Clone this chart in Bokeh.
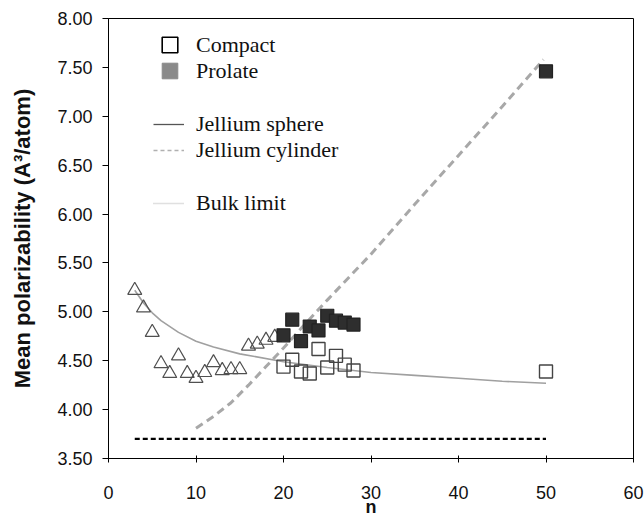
from bokeh.plotting import figure
from bokeh.models import Range1d, FixedTicker, Legend, LegendItem
from bokeh.embed import file_html
from bokeh.resources import INLINE

# ---- data ----
tri_n = [3, 4, 5, 6, 7, 8, 9, 10, 11, 12, 13, 14, 15, 16, 17, 18, 19]
tri_y = [5.22, 5.04, 4.79, 4.47, 4.37, 4.55, 4.37, 4.32, 4.38, 4.48,
         4.40, 4.41, 4.41, 4.65, 4.67, 4.71, 4.74]

compact_n = [20, 21, 22, 23, 24, 25, 26, 27, 28, 50]
compact_y = [4.44, 4.51, 4.39, 4.37, 4.62, 4.43, 4.55, 4.46, 4.40, 4.39]

prolate_n = [20, 21, 22, 23, 24, 25, 26, 27, 28, 50]
prolate_y = [4.76, 4.92, 4.70, 4.85, 4.81, 4.96, 4.91, 4.89, 4.87, 7.46]

sphere_n = [3, 4, 5, 6, 8, 10, 12, 15, 20, 25, 30, 35, 40, 45, 50]
sphere_y = [5.22, 5.09, 4.99, 4.91, 4.79, 4.70, 4.64, 4.57, 4.49, 4.43,
            4.38, 4.35, 4.32, 4.29, 4.27]

cyl_n = [10, 12, 14, 16, 18, 20, 22, 25, 30, 35, 40, 45, 49.7]
cyl_y = [3.81, 3.93, 4.07, 4.25, 4.44, 4.63, 4.83, 5.12, 5.59, 6.10,
         6.60, 7.10, 7.58]

bulk_n = [3, 50]
bulk_y = [3.70, 3.70]

x_ticks = [0, 10, 20, 30, 40, 50, 60]
y_ticks = [3.5, 4.0, 4.5, 5.0, 5.5, 6.0, 6.5, 7.0, 7.5, 8.0]
y_tick_labels = ["3.50", "4.00", "4.50", "5.00", "5.50", "6.00", "6.50",
                 "7.00", "7.50", "8.00"]

# ---- figure ----
p = figure(width=644, height=523, output_backend="svg", toolbar_location=None,
           x_range=Range1d(0, 60), y_range=Range1d(3.5, 8.0),
           min_border_left=108, min_border_right=11,
           min_border_top=18, min_border_bottom=65)
p.background_fill_color = "white"
p.border_fill_color = "white"
p.outline_line_color = "black"
p.outline_line_width = 1
p.xgrid.visible = False
p.ygrid.visible = False

sans = "Liberation Sans"
serif = "Liberation Serif"

p.xaxis.ticker = FixedTicker(ticks=x_ticks)
p.yaxis.ticker = FixedTicker(ticks=y_ticks)
p.yaxis.major_label_overrides = {t: l for t, l in zip(y_ticks, y_tick_labels)}

for ax in (p.xaxis[0], p.yaxis[0]):
    ax.axis_line_color = "black"
    ax.major_tick_line_color = "black"
    ax.minor_tick_line_color = None
    ax.major_label_text_font = sans
    ax.major_label_text_font_size = "18px"
    ax.major_label_text_color = "#111111"
    ax.axis_label_text_font = sans
    ax.axis_label_text_font_style = "bold"
    ax.axis_label_text_color = "#111111"

p.xaxis.major_tick_in = 3
p.xaxis.major_tick_out = 4
p.xaxis.major_label_standoff = 23
p.xaxis.axis_label = "n"
p.xaxis.axis_label_text_font_size = "18px"
p.xaxis.axis_label_standoff = -5

p.yaxis.major_tick_in = 0
p.yaxis.major_tick_out = 6
p.yaxis.major_label_standoff = 10
p.yaxis.axis_label = "Mean polarizability (A\u00b3/atom)"
p.yaxis.axis_label_text_font_size = "22px"
p.yaxis.axis_label_standoff = 19

# ---- lines ----
p.line(bulk_n, bulk_y, line_color="black", line_width=2.2, line_dash="5 3")
p.line(sphere_n, sphere_y, line_color="#a0a0a0", line_width=1.6)
p.line(cyl_n, cyl_y, line_color="#a8a8a8", line_width=3, line_dash="8 5")

# ---- markers ----
p.scatter(tri_n, tri_y, marker="triangle", size=14, fill_color=None,
          line_color="#505050", line_width=1.2)
p.scatter(compact_n, compact_y, marker="square", size=13, fill_color=None,
          line_color="#444444", line_width=1.4)
p.scatter(prolate_n, prolate_y, marker="square", size=13, fill_color="#2e2e2e",
          line_color="#222222", line_width=1.2)

# ---- legend proxies (hidden renderers styled as in the key) ----
leg_compact = p.scatter(compact_n, compact_y, marker="square", size=15, fill_color=None,
                        line_color="black", line_width=1.6, visible=False)
leg_prolate = p.scatter(prolate_n, prolate_y, marker="square", size=15, fill_color="#8a8a8a",
                        line_color="#8a8a8a", visible=False)
leg_sphere = p.line(sphere_n, sphere_y, line_color="#555555", line_width=1.3, visible=False)
leg_cyl = p.line(cyl_n, cyl_y, line_color="#b0b0b0", line_width=1.3, line_dash="4 3",
                 visible=False)
leg_bulk = p.line(bulk_n, bulk_y, line_color="#c0c0c0", line_width=1.5, line_dash="1 1",
                  visible=False)


def make_legend(items, loc, gw, gh, standoff):
    lg = Legend(items=items, location=loc, orientation="vertical",
                glyph_width=gw, glyph_height=gh, label_height=gh,
                label_standoff=standoff, padding=0, spacing=0, margin=0,
                border_line_color=None, background_fill_alpha=0,
                inactive_fill_alpha=0, click_policy="none",
                label_text_font=serif, label_text_font_size="22px",
                label_text_color="#111111")
    p.add_layout(lg, "center")


make_legend([LegendItem(label="Compact", renderers=[leg_compact])], (42, 394), 39, 39, 7)
make_legend([LegendItem(label="Prolate", renderers=[leg_prolate])], (42, 368), 39, 39, 7)
make_legend([LegendItem(label="Jellium sphere", renderers=[leg_sphere]),
             LegendItem(label="Jellium cylinder", renderers=[leg_cyl])],
            (45, 295), 31, 24, 12)
make_legend([LegendItem(label="Bulk limit", renderers=[leg_bulk])], (45, 242), 31, 24, 12)

open("out.html", "w").write(file_html(p, INLINE))
